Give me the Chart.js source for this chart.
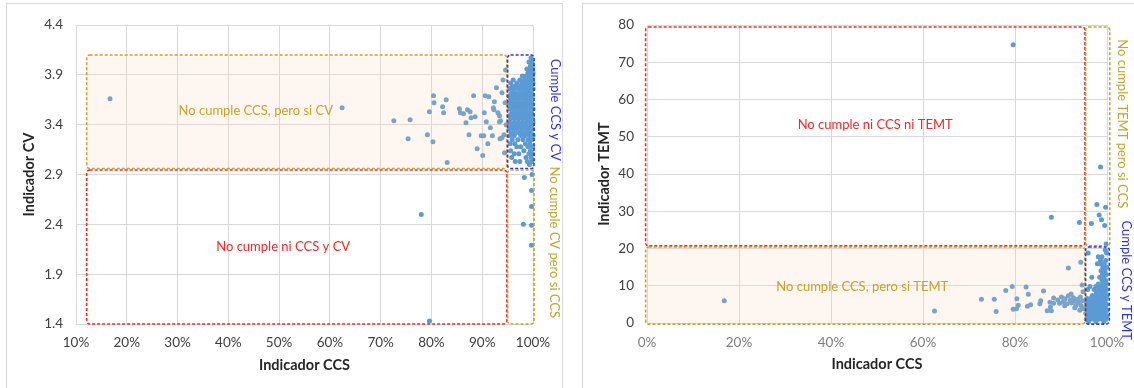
<!DOCTYPE html>
<html lang="es">
<head>
  <meta charset="UTF-8">
  <title>Indicadores CCS, CV y TEMT</title>
  <style>
    body { margin: 0; background: #fff; }
    .panel { position: absolute; top: 3px; border: 1px solid #d9d9d9; width: 555px; height: 384px; }
    #panelCV { left: 6px; }
    #panelTEMT { left: 582px; width: 560px; }
  </style>
</head>
<body>
  <div class="panel" id="panelCV"><canvas id="chartCV" width="555" height="384"></canvas></div>
  <div class="panel" id="panelTEMT"><canvas id="chartTEMT" width="560" height="384"></canvas></div>

  <script src="https://cdn.jsdelivr.net/npm/chart.js"></script>
  <script>
    // Ticks de los ejes
    const ticksCCS_CV = [10, 20, 30, 40, 50, 60, 70, 80, 90, 100];
    const ticksCV = [1.4, 1.9, 2.4, 2.9, 3.4, 3.9, 4.4];
    const ticksCCS_TEMT = [0, 20, 40, 60, 80, 100];
    const ticksTEMT = [0, 10, 20, 30, 40, 50, 60, 70, 80];

    // [CCS %, CV]
    const puntosCV = [
      [16.7,3.66],[62.4,3.57],[72.6,3.44],[75.8,3.45],[75.4,3.26],[79.2,3.30],[80.3,3.23],[80.4,3.69],
      [80.5,3.62],[82.9,3.65],[79.6,3.53],[82.2,3.58],[82.4,3.52],[83.1,3.02],[85.5,3.56],[85.7,3.52],
      [86.3,3.51],[87.1,3.55],[87.6,3.53],[87.8,3.47],[86.8,3.42],[88.3,3.69],[87.4,3.30],[89.8,3.29],
      [90.3,3.29],[90.1,3.09],[90.6,3.69],[91.3,3.68],[90.4,3.52],[90.8,3.43],[91.1,3.21],[91.6,3.37],
      [92.0,3.29],[92.2,3.57],[92.3,3.55],[92.4,3.63],[92.8,3.77],[93.1,3.52],[93.4,3.49],[93.6,3.44],
      [93.9,3.72],[93.5,3.26],[93.9,3.27],[94.3,3.30],[93.4,3.43],[88.6,3.48],[94.6,3.95],[94.1,3.85],
      [94.5,3.62],[94.7,3.40],[94.4,3.12],[89.0,3.16],
      [78.0,2.50],[79.6,1.43],[98.3,2.87],[99.8,2.90],[99.7,2.74],[99.7,2.58],[98.1,2.40],[99.7,2.39],[99.7,2.19],
      [99.6,4.07],[99.8,4.03],[99.2,4.03],[99.5,3.99],[99.9,3.99],[98.8,3.96],[99.3,3.96],[99.8,3.96],
      [99.0,3.92],[99.6,3.92],[100,3.92],[97.9,3.89],[98.6,3.89],[99.3,3.89],[99.9,3.89],
      [96.1,3.85],[97.4,3.85],[98.3,3.85],[99.1,3.85],[99.7,3.85],
      [95.6,3.82],[96.8,3.82],[97.8,3.82],[98.7,3.82],[99.4,3.82],[100,3.82],
      [95.9,3.79],[96.6,3.79],[97.4,3.79],[98.2,3.79],[99.0,3.79],[99.7,3.79],
      [95.4,3.76],[96.2,3.76],[97.1,3.76],[97.9,3.76],[98.6,3.76],[99.3,3.76],[100,3.76],
      [95.8,3.72],[96.6,3.72],[97.5,3.72],[98.3,3.72],[99.0,3.72],[99.7,3.72],
      [95.3,3.69],[96.1,3.69],[96.9,3.69],[97.7,3.69],[98.5,3.69],[99.2,3.69],[99.9,3.69],
      [95.6,3.66],[96.4,3.66],[97.2,3.66],[98.0,3.66],[98.8,3.66],[99.5,3.66],
      [95.3,3.62],[96.0,3.62],[96.8,3.62],[97.6,3.62],[98.4,3.62],[99.1,3.62],[99.8,3.62],
      [95.7,3.59],[96.5,3.59],[97.3,3.59],[98.1,3.59],[98.9,3.59],[99.6,3.59],
      [95.4,3.56],[96.2,3.56],[97.0,3.56],[97.8,3.56],[98.6,3.56],[99.3,3.56],[100,3.56],
      [95.8,3.52],[96.6,3.52],[97.4,3.52],[98.2,3.52],[99.0,3.52],[99.7,3.52],
      [95.3,3.49],[96.0,3.49],[96.9,3.49],[97.7,3.49],[98.5,3.49],[99.2,3.49],[99.9,3.49],
      [95.6,3.46],[96.4,3.46],[97.2,3.46],[98.0,3.46],[98.8,3.46],[99.5,3.46],
      [95.4,3.42],[96.2,3.42],[97.0,3.42],[97.8,3.42],[98.6,3.42],[99.3,3.42],[100,3.42],
      [95.8,3.39],[96.6,3.39],[97.4,3.39],[98.2,3.39],[99.0,3.39],[99.7,3.39],
      [95.3,3.36],[96.1,3.36],[96.9,3.36],[97.7,3.36],[98.5,3.36],[99.2,3.36],[99.9,3.36],
      [95.7,3.32],[96.5,3.32],[97.3,3.32],[98.1,3.32],[98.9,3.32],[99.6,3.32],
      [95.4,3.29],[96.3,3.29],[97.6,3.29],[98.4,3.29],[99.3,3.29],[100,3.29],
      [95.9,3.25],[97.0,3.25],[98.0,3.25],[99.0,3.25],[99.7,3.25],
      [95.5,3.21],[96.4,3.21],[98.5,3.21],[99.4,3.21],
      [96.8,3.18],[97.6,3.18],[99.0,3.18],[99.9,3.18],
      [95.6,3.14],[98.2,3.14],[99.5,3.14],
      [96.3,3.11],[97.2,3.11],[99.2,3.11],[99.9,3.11],
      [95.8,3.07],[98.6,3.07],[99.6,3.07],
      [96.5,3.03],[97.4,3.03],[98.9,3.03],[99.8,3.03],[99.3,3.00]
    ];

    // [CCS %, TEMT]
    const puntosTEMT = [
      [16.8,6.0],[79.6,74.7],[98.6,41.9],[87.9,28.4],[94.0,27.0],[96.6,26.7],[97.8,31.8],[99.7,31.1],
      [98.3,29.0],[98.8,27.7],[99.5,26.2],[99.8,21.2],
      [62.5,3.2],[72.7,6.4],[75.5,6.4],[75.9,3.1],[78.0,8.7],[79.4,9.8],[80.4,6.5],[79.6,3.7],
      [80.3,3.8],[80.7,4.8],[82.4,9.7],[82.9,7.7],[82.7,4.5],[83.4,4.9],[86.2,8.6],[85.6,6.0],
      [85.4,5.2],[87.0,3.3],[87.9,3.3],[87.7,4.3],[87.6,5.6],[88.4,6.7],[88.4,5.3],[91.6,14.8],
      [94.3,16.3],[94.6,10.2],
      [89.3,6.2],[89.7,5.3],[90.1,7.0],[90.5,5.8],[90.9,6.5],[91.3,5.2],[91.6,7.3],[92.0,6.1],
      [92.3,5.4],[92.7,6.8],[93.0,5.9],[93.3,4.8],[93.6,6.4],[93.9,5.5],[94.2,7.0],[94.4,4.6],
      [94.7,6.0],[94.9,3.8],[94.1,3.4],[93.0,4.1],[94.8,8.4],[92.2,7.8],[90.8,4.6],
      [99.6,19.6],[95.9,18.8],[99.9,18.8],[98.1,17.8],[98.9,17.8],[98.6,16.8],[99.7,16.8],
      [97.9,15.9],[98.4,15.9],[99.4,15.9],[99.1,15.0],[99.9,15.0],[98.7,14.0],[99.5,14.0],
      [99.0,13.0],[99.8,13.0],[96.7,12.3],[98.4,12.3],[99.3,12.3],[98.9,11.4],[99.7,11.4],
      [98.1,10.5],[99.1,10.5],[99.9,10.5],[96.3,9.8],[97.6,9.8],[98.6,9.8],[99.5,9.8],
      [95.8,9.0],[97.2,9.0],[98.2,9.0],[99.1,9.0],[99.9,9.0],[97.7,8.2],[98.7,8.2],[99.6,8.2],
      [96.8,7.4],[97.6,7.4],[98.5,7.4],[99.3,7.4],[100,7.4],
      [95.7,6.6],[96.5,6.6],[97.3,6.6],[98.1,6.6],[99.0,6.6],[99.8,6.6],
      [95.4,5.8],[96.2,5.8],[97.0,5.8],[97.8,5.8],[98.7,5.8],[99.5,5.8],
      [95.8,5.0],[96.6,5.0],[97.4,5.0],[98.3,5.0],[99.1,5.0],[99.9,5.0],
      [95.4,4.2],[96.2,4.2],[97.0,4.2],[97.9,4.2],[98.8,4.2],[99.6,4.2],
      [95.8,3.4],[96.6,3.4],[97.5,3.4],[98.4,3.4],[99.2,3.4],[100,3.4],
      [95.4,2.6],[96.2,2.6],[97.1,2.6],[98.0,2.6],[98.8,2.6],[99.6,2.6],
      [95.8,1.8],[96.7,1.8],[97.6,1.8],[98.5,1.8],[99.3,1.8],[100,1.8],
      [95.5,1.0],[96.3,1.0],[97.2,1.0],[98.1,1.0],[98.9,1.0],[99.7,1.0],
      [96.0,0.4],[97.6,0.4],[99.3,0.4]
    ];

    const ORO = '#C9A227', ROJO = '#FF2424', AZUL = '#3030FF';

    // Dibuja las zonas punteadas y sus rotulos
    const zonasPlugin = {
      id: 'zonas',
      afterDatasetsDraw(chart, args, opts) {
        const { ctx, chartArea } = chart;
        const x = chart.scales.x, y = chart.scales.y;
        ctx.save();
        opts.cajas.forEach(c => {
          const l = x.getPixelForValue(c.x[0]), r = x.getPixelForValue(c.x[1]);
          const t = y.getPixelForValue(c.y[1]), b = y.getPixelForValue(c.y[0]);
          ctx.beginPath();
          ctx.roundRect(l, t, r - l, b - t, 3);
          if (c.relleno) {
            ctx.fillStyle = 'rgba(248,203,173,0.18)';
            ctx.fill();
          }
          ctx.setLineDash([3, 2]);
          ctx.lineWidth = 1.6;
          ctx.strokeStyle = c.color;
          ctx.stroke();
        });
        ctx.setLineDash([]);
        ctx.font = '13px Lato';
        ctx.textAlign = 'center';
        ctx.textBaseline = 'middle';
        opts.textos.forEach(t => {
          const px = t.fuera ? chartArea.right + t.fuera : x.getPixelForValue(t.x);
          const py = y.getPixelForValue(t.y);
          ctx.save();
          ctx.translate(px, py);
          if (t.fuera) ctx.rotate(Math.PI / 2);
          ctx.fillStyle = t.color;
          ctx.fillText(t.texto, 0, 0);
          ctx.restore();
        });
        ctx.restore();
      }
    };

    Chart.defaults.font.family = 'Lato';
    Chart.defaults.font.size = 13.5;

    function crearGrafico(id, puntos, cfg) {
      return new Chart(document.getElementById(id), {
        type: 'scatter',
        data: {
          datasets: [{
            data: puntos.map(([x, y]) => ({ x, y })),
            pointRadius: 2.5,
            pointHoverRadius: 2.5,
            backgroundColor: '#5B9BD5',
            borderWidth: 0,
            clip: 8
          }]
        },
        options: {
          responsive: false,
          animation: false,
          events: [],
          layout: { padding: cfg.padding },
          plugins: {
            legend: { display: false },
            tooltip: { enabled: false },
            zonas: { cajas: cfg.cajas, textos: cfg.textos }
          },
          scales: {
            x: {
              type: 'linear',
              min: cfg.xTicks[0],
              max: cfg.xTicks[cfg.xTicks.length - 1],
              afterBuildTicks: s => { s.ticks = cfg.xTicks.map(v => ({ value: v })); },
              afterFit: s => { s.height = cfg.altoX; },
              grid: { color: '#D9D9D9', drawTicks: false },
              border: { display: false },
              ticks: { padding: cfg.padX, color: cfg.colorX, callback: v => v + '%' },
              title: {
                display: true, text: 'Indicador CCS', color: '#262626',
                font: { weight: 'bold', size: 14.5, lineHeight: 1.2 },
                padding: { top: 0, bottom: cfg.tituloX }
              }
            },
            y: {
              type: 'linear',
              min: cfg.yTicks[0],
              max: cfg.yTicks[cfg.yTicks.length - 1],
              afterBuildTicks: s => { s.ticks = cfg.yTicks.map(v => ({ value: v })); },
              afterFit: s => { s.width = cfg.anchoY; },
              grid: { color: '#D9D9D9', drawTicks: false },
              border: { display: false },
              ticks: { padding: 13, color: '#404040', callback: cfg.formatoY },
              title: {
                display: true, text: cfg.tituloY, color: '#262626',
                font: { weight: 'bold', size: 14.5, lineHeight: 1.2 },
                padding: { top: cfg.tituloYPad, bottom: 0 }
              }
            }
          }
        },
        plugins: [zonasPlugin]
      });
    }

    crearGrafico('chartCV', puntosCV, {
      padding: { top: 13, right: 29, left: 0, bottom: 0 },
      xTicks: ticksCCS_CV, yTicks: ticksCV,
      altoX: 64, anchoY: 69, padX: 11, tituloX: 14, tituloYPad: 14,
      colorX: '#404040', tituloY: 'Indicador CV',
      formatoY: v => v.toFixed(1),
      cajas: [
        { x: [12.1, 94.85], y: [2.96, 4.1], color: ORO, relleno: true },
        { x: [12.1, 94.85], y: [1.4, 2.945], color: ROJO },
        { x: [95.0, 100.2], y: [2.96, 4.1], color: AZUL },
        { x: [95.0, 100.2], y: [1.4, 2.945], color: ORO }
      ],
      textos: [
        { texto: 'No cumple CCS, pero si CV', x: 45.4, y: 3.54, color: ORO },
        { texto: 'No cumple ni CCS y CV', x: 50.8, y: 2.17, color: ROJO },
        { texto: 'Cumple CCS y CV', fuera: 22, y: 3.55, color: AZUL },
        { texto: 'No cumple CV pero si CCS', fuera: 21, y: 2.22, color: ORO }
      ]
    });

    crearGrafico('chartTEMT', puntosTEMT, {
      padding: { top: 14, right: 36, left: 0, bottom: 0 },
      xTicks: ticksCCS_TEMT, yTicks: ticksTEMT,
      altoX: 65, anchoY: 64, padX: 12, tituloX: 15, tituloYPad: 13,
      colorX: '#7F7F7F', tituloY: 'Indicador TEMT',
      formatoY: v => v,
      cajas: [
        { x: [-0.3, 95.2], y: [20.7, 79.5], color: ROJO },
        { x: [95.35, 100.6], y: [20.7, 79.5], color: ORO },
        { x: [-0.3, 95.2], y: [-0.3, 20.4], color: ORO, relleno: true },
        { x: [95.35, 100.5], y: [-0.3, 20.4], color: AZUL }
      ],
      textos: [
        { texto: 'No cumple ni CCS ni TEMT', x: 49.6, y: 53.3, color: ROJO },
        { texto: 'No cumple CCS, pero si TEMT', x: 46.8, y: 9.7, color: ORO },
        { texto: 'No cumple TEMT pero si CCS', fuera: 15, y: 53.5, color: ORO },
        { texto: 'Cumple CCS y TEMT', fuera: 19, y: 11.5, color: AZUL }
      ]
    });
  </script>
</body>
</html>
